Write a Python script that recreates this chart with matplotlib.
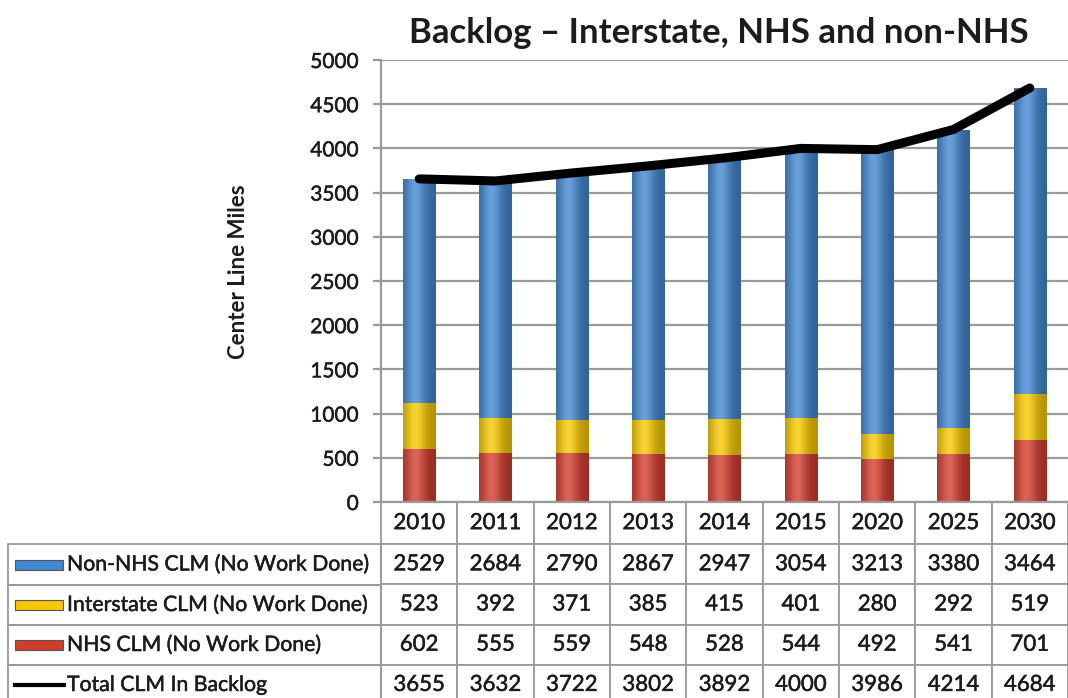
import numpy as np
import matplotlib
matplotlib.use("Agg")
import matplotlib.pyplot as plt
import matplotlib.patheffects as pe
from matplotlib.patches import Rectangle
from matplotlib.lines import Line2D
from matplotlib.colors import to_rgb

plt.rcParams['font.family'] = ['Lato', 'DejaVu Sans']

years = ['2010', '2011', '2012', '2013', '2014', '2015', '2020', '2025', '2030']
non_nhs = [2529, 2684, 2790, 2867, 2947, 3054, 3213, 3380, 3464]
interstate = [523, 392, 371, 385, 415, 401, 280, 292, 519]
nhs = [602, 555, 559, 548, 528, 544, 492, 541, 701]
total = [3655, 3632, 3722, 3802, 3892, 4000, 3986, 4214, 4684]

series_names = ['Non-NHS CLM (No Work Done)', 'Interstate CLM (No Work Done)',
                'NHS CLM (No Work Done)', 'Total CLM In Backlog']

BLUE = '#4287cf'
YELLOW = '#f6c800'
RED = '#d23c2e'
GRID = '#9a9a9a'
TXT = '#1c1c1c'
thick = [pe.withStroke(linewidth=0.35, foreground=TXT)]

W, H = 1068, 698
AX_L, AX_R, AX_T, AX_B = 381, 1068, 60, 502
AW, AH = AX_R - AX_L, AX_B - AX_T
fig = plt.figure(figsize=(W / 100, H / 100), dpi=100)
ax = fig.add_axes([AX_L / W, (H - AX_B) / H, AW / W, AH / H])


def shaded_bar(ax, x, bottom, height, width, color):
    # flat bar plus a horizontal light/dark gradient clipped to it
    bar = ax.bar(x, height, width, bottom=bottom, color=color, edgecolor='none',
                 zorder=2)[0]
    base = np.array(to_rgb(color))
    t = np.linspace(0, 1, 64)
    light = np.exp(-((t - 0.38) / 0.3) ** 2)[:, None]
    grad = base * (0.74 + 0.26 * light) + (1 - base) * 0.2 * light
    grad = np.clip(grad, 0, 1)
    img = ax.imshow(grad[None, :, :], aspect='auto', interpolation='bilinear',
                    extent=(x - width / 2, x + width / 2, bottom, bottom + height),
                    zorder=2.1)
    img.set_clip_path(bar)
    return bar


xs = np.arange(len(years))
bw = 0.42
for i, x in enumerate(xs):
    shaded_bar(ax, x, 0, nhs[i], bw, RED)
    shaded_bar(ax, x, nhs[i], interstate[i], bw, YELLOW)
    shaded_bar(ax, x, nhs[i] + interstate[i], non_nhs[i], bw, BLUE)

ax.plot(xs, total, color='black', lw=6.5, solid_capstyle='round',
        solid_joinstyle='round', zorder=4)

ax.set_xlim(-0.5, len(years) - 0.5)
ax.set_ylim(0, 5000)
ax.set_yticks(np.arange(0, 5001, 500))
ax.set_xticks([])
ax.yaxis.grid(True, color=GRID, lw=1.6)
ax.set_axisbelow(True)
for side in ['top', 'right']:
    ax.spines[side].set_visible(False)
for side in ['left', 'bottom']:
    ax.spines[side].set_color(GRID)
    ax.spines[side].set_linewidth(1.6)
ax.tick_params(axis='y', length=6, width=1.6, color=GRID, pad=10,
               labelsize=15, labelcolor=TXT)
for lbl in ax.get_yticklabels():
    lbl.set_path_effects(thick)
ax.set_ylabel('Center Line Miles', fontsize=16, fontweight='bold', color=TXT)
ax.yaxis.set_label_coords((249 - AX_L) / AW, (AX_B - 272) / AH)

fig.text(719 / W, 1 - 33 / H, 'Backlog \u2013 Interstate, NHS and non-NHS',
         ha='center', va='center', fontsize=25, fontweight='bold', color=TXT)

# data table under the plot, year columns only
cell_text = [[str(v) for v in non_nhs], [str(v) for v in interstate],
             [str(v) for v in nhs], [str(v) for v in total]]
col_w = 1 / len(years)
tb_bottom = 705
tb_h = (tb_bottom - AX_B) / AH
tbl = ax.table(cellText=cell_text, colLabels=years, cellLoc='center',
               bbox=[0, -tb_h, 1, tb_h])
tbl.auto_set_font_size(False)
for (r, c), cell in tbl.get_celld().items():
    cell.set_edgecolor(GRID)
    cell.set_linewidth(1.3)
    cell.get_text().set_fontsize(16)
    cell.get_text().set_color(TXT)
    cell.get_text().set_path_effects(thick)
    cell.set_width(col_w)
    cell.set_height((42 if r == 0 else 40) / AH)

# row label cells with their legend swatches
row_tops = [544, 585, 625, 665]
row_h = [41, 40, 40, 40]
swatch_cols = [BLUE, YELLOW, RED]
for k, name in enumerate(series_names):
    y0 = 1 - (row_tops[k] + row_h[k]) / H
    yc = 1 - (row_tops[k] + row_h[k] / 2) / H
    fig.patches.append(Rectangle((8 / W, y0), (AX_L - 8) / W, row_h[k] / H,
                                 transform=fig.transFigure, facecolor='none',
                                 edgecolor=GRID, lw=1.3))
    fig.text(67 / W, yc, name, ha='left', va='center', fontsize=15.3,
             color=TXT, path_effects=thick)
    if k < 3:
        fig.patches.append(Rectangle((15 / W, yc - 5 / H), 48 / W, 10 / H,
                                     transform=fig.transFigure,
                                     facecolor=swatch_cols[k],
                                     edgecolor='#555555', lw=0.8))
    else:
        fig.lines.append(Line2D([15 / W, 64 / W], [yc, yc], color='black',
                                lw=3, transform=fig.transFigure))

fig.savefig('out.png', dpi=100)
